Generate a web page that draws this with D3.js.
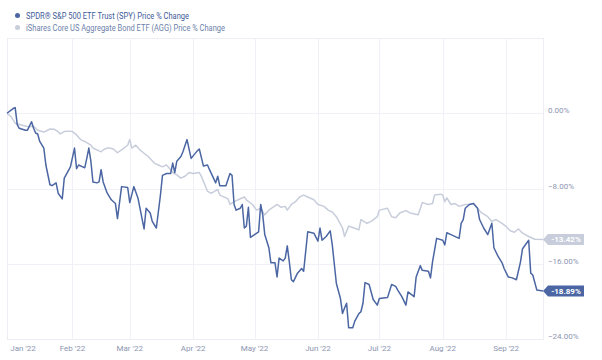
<!DOCTYPE html>
<html>
<head>
<meta charset="utf-8">
<style>
    body { margin: 0; background: #fff; }
    text { font-family: Roboto, "Noto Sans", sans-serif; }
    .axis-label { fill: #8d96b2; font-size: 8px; }
    .legend-text { font-size: 9px; }
    .grid line { stroke: #eff1f6; stroke-width: 1; }
</style>
<script src="https://d3js.org/d3.v7.min.js"></script>
</head>
<body>
<div id="chart"></div>
<script>

var seriesNames = ["SPDR® S&P 500 ETF Trust (SPY) Price % Change",
                   "iShares Core US Aggregate Bond ETF (AGG) Price % Change"];
var seriesColors = ["#4b66a3", "#c7cddb"];
var endLabels = ["-18.89%", "-13.42%"];
var yTicks = [0, -8, -16, -24];

// SPY price % change
var spy = [
    ["2021-12-31", 0.0], ["2022-01-03", 0.5], ["2022-01-04", 0.6], ["2022-01-05", -1.2],
    ["2022-01-06", -1.6], ["2022-01-09", -1.8], ["2022-01-10", -1.8], ["2022-01-12", -0.9],
    ["2022-01-13", -1.6], ["2022-01-14", -2.1], ["2022-01-15", -2.2], ["2022-01-16", -3.0],
    ["2022-01-18", -3.7], ["2022-01-19", -5.5], ["2022-01-21", -7.6], ["2022-01-22", -7.7],
    ["2022-01-24", -7.4], ["2022-01-25", -8.5], ["2022-01-27", -9.1], ["2022-01-28", -6.9],
    ["2022-01-31", -5.7], ["2022-02-02", -3.7], ["2022-02-03", -5.9], ["2022-02-04", -5.5],
    ["2022-02-06", -5.7], ["2022-02-07", -5.8], ["2022-02-08", -4.8], ["2022-02-09", -3.7],
    ["2022-02-10", -5.1], ["2022-02-11", -7.3], ["2022-02-13", -7.4], ["2022-02-14", -7.3],
    ["2022-02-15", -6.0], ["2022-02-16", -7.3], ["2022-02-18", -8.5], ["2022-02-20", -9.2],
    ["2022-02-22", -9.6], ["2022-02-23", -11.2], ["2022-02-25", -7.8], ["2022-02-28", -7.9],
    ["2022-03-01", -9.5], ["2022-03-03", -7.8], ["2022-03-05", -9.0], ["2022-03-07", -11.2],
    ["2022-03-08", -12.3], ["2022-03-09", -10.1], ["2022-03-11", -10.6], ["2022-03-12", -11.5],
    ["2022-03-14", -12.2], ["2022-03-16", -8.7], ["2022-03-17", -6.6], ["2022-03-19", -6.4],
    ["2022-03-21", -6.4], ["2022-03-22", -5.3], ["2022-03-23", -6.3], ["2022-03-24", -5.1],
    ["2022-03-26", -4.6], ["2022-03-27", -4.1], ["2022-03-29", -2.8], ["2022-03-31", -4.8],
    ["2022-04-03", -4.0], ["2022-04-04", -3.8], ["2022-04-06", -5.6], ["2022-04-08", -5.5],
    ["2022-04-09", -6.0], ["2022-04-12", -7.4], ["2022-04-13", -6.7], ["2022-04-14", -7.7],
    ["2022-04-17", -7.7], ["2022-04-19", -6.4], ["2022-04-20", -6.6], ["2022-04-21", -9.7],
    ["2022-04-22", -10.3], ["2022-04-24", -10.1], ["2022-04-25", -9.7], ["2022-04-26", -12.2],
    ["2022-04-27", -12.0], ["2022-04-28", -10.0], ["2022-04-29", -13.2], ["2022-05-01", -12.9],
    ["2022-05-03", -12.6], ["2022-05-04", -9.7], ["2022-05-05", -10.8], ["2022-05-06", -12.9],
    ["2022-05-08", -14.3], ["2022-05-09", -15.9], ["2022-05-11", -15.9], ["2022-05-12", -17.4],
    ["2022-05-13", -15.4], ["2022-05-15", -15.7], ["2022-05-16", -15.4], ["2022-05-17", -14.1],
    ["2022-05-18", -15.8], ["2022-05-19", -17.7], ["2022-05-20", -17.9], ["2022-05-22", -17.0],
    ["2022-05-24", -16.5], ["2022-05-25", -16.8], ["2022-05-27", -12.6], ["2022-05-30", -12.75],
    ["2022-06-01", -13.6], ["2022-06-02", -12.2], ["2022-06-03", -13.5], ["2022-06-05", -13.1],
    ["2022-06-07", -12.5], ["2022-06-08", -14.0], ["2022-06-10", -18.1], ["2022-06-12", -19.7],
    ["2022-06-13", -21.3], ["2022-06-14", -20.7], ["2022-06-15", -20.2], ["2022-06-16", -22.8],
    ["2022-06-18", -22.8], ["2022-06-19", -22.1], ["2022-06-21", -21.3], ["2022-06-22", -21.1],
    ["2022-06-23", -20.2], ["2022-06-24", -18.0], ["2022-06-26", -18.2], ["2022-06-28", -19.8],
    ["2022-06-30", -20.4], ["2022-07-01", -19.7], ["2022-07-05", -19.6], ["2022-07-07", -18.2],
    ["2022-07-09", -18.4], ["2022-07-10", -18.8], ["2022-07-12", -19.5], ["2022-07-14", -20.4],
    ["2022-07-15", -19.0], ["2022-07-18", -19.5], ["2022-07-19", -17.4], ["2022-07-21", -16.2],
    ["2022-07-22", -16.7], ["2022-07-25", -16.8], ["2022-07-26", -17.5], ["2022-07-27", -15.8],
    ["2022-07-29", -13.3], ["2022-08-01", -13.5], ["2022-08-02", -14.0], ["2022-08-03", -12.7],
    ["2022-08-05", -12.9], ["2022-08-09", -13.3], ["2022-08-10", -11.7], ["2022-08-11", -11.3],
    ["2022-08-12", -10.1], ["2022-08-14", -9.7], ["2022-08-16", -9.6], ["2022-08-18", -10.1],
    ["2022-08-19", -11.3], ["2022-08-21", -12.2], ["2022-08-23", -12.9], ["2022-08-25", -11.7],
    ["2022-08-26", -14.3], ["2022-08-28", -15.2], ["2022-08-30", -15.9], ["2022-08-31", -16.5],
    ["2022-09-02", -17.4], ["2022-09-04", -17.5], ["2022-09-06", -17.7], ["2022-09-08", -15.8],
    ["2022-09-09", -14.4], ["2022-09-12", -13.5], ["2022-09-13", -17.0], ["2022-09-14", -17.2],
    ["2022-09-16", -18.8], ["2022-09-19", -18.89]
];

// AGG price % change
var agg = [
    ["2021-12-31", 0.0], ["2022-01-02", -0.36], ["2022-01-04", -1.06], ["2022-01-08", -1.3],
    ["2022-01-10", -1.4], ["2022-01-13", -1.4], ["2022-01-15", -1.8], ["2022-01-18", -2.0],
    ["2022-01-21", -1.67], ["2022-01-23", -1.7], ["2022-01-25", -1.95], ["2022-01-26", -2.2],
    ["2022-01-28", -1.95], ["2022-01-30", -1.9], ["2022-02-01", -1.95], ["2022-02-03", -2.3],
    ["2022-02-05", -2.8], ["2022-02-07", -3.0], ["2022-02-10", -3.4], ["2022-02-11", -3.7],
    ["2022-02-15", -4.1], ["2022-02-16", -3.9], ["2022-02-18", -3.7], ["2022-02-19", -3.7],
    ["2022-02-21", -3.8], ["2022-02-23", -4.2], ["2022-02-25", -3.9], ["2022-02-28", -3.4],
    ["2022-03-01", -2.8], ["2022-03-02", -3.7], ["2022-03-04", -3.4], ["2022-03-06", -3.9],
    ["2022-03-08", -4.25], ["2022-03-10", -4.6], ["2022-03-13", -5.3], ["2022-03-15", -5.5],
    ["2022-03-17", -5.7], ["2022-03-19", -5.5], ["2022-03-21", -6.0], ["2022-03-22", -6.3],
    ["2022-03-24", -6.56], ["2022-03-26", -6.9], ["2022-03-28", -6.7], ["2022-03-30", -6.3],
    ["2022-04-01", -6.4], ["2022-04-04", -6.3], ["2022-04-05", -6.7], ["2022-04-08", -8.3],
    ["2022-04-10", -8.5], ["2022-04-13", -8.1], ["2022-04-14", -8.7], ["2022-04-17", -9.0],
    ["2022-04-18", -9.1], ["2022-04-19", -9.7], ["2022-04-21", -9.4], ["2022-04-23", -9.2],
    ["2022-04-26", -8.9], ["2022-04-27", -9.2], ["2022-04-30", -9.7], ["2022-05-02", -10.3],
    ["2022-05-04", -10.1], ["2022-05-06", -10.8], ["2022-05-08", -10.3], ["2022-05-12", -9.7],
    ["2022-05-14", -10.0], ["2022-05-16", -9.9], ["2022-05-17", -10.3], ["2022-05-19", -9.7],
    ["2022-05-21", -9.4], ["2022-05-23", -8.9], ["2022-05-25", -8.7], ["2022-05-27", -8.9],
    ["2022-05-30", -9.2], ["2022-06-01", -9.7], ["2022-06-04", -9.9], ["2022-06-06", -10.3],
    ["2022-06-08", -10.5], ["2022-06-10", -11.0], ["2022-06-13", -12.2], ["2022-06-14", -13.1],
    ["2022-06-16", -12.0], ["2022-06-18", -12.15], ["2022-06-21", -12.4], ["2022-06-22", -11.3],
    ["2022-06-25", -11.7], ["2022-06-27", -11.5], ["2022-06-30", -11.0], ["2022-07-01", -10.3],
    ["2022-07-05", -10.1], ["2022-07-07", -11.0], ["2022-07-09", -11.1], ["2022-07-11", -10.6],
    ["2022-07-14", -10.35], ["2022-07-16", -10.6], ["2022-07-20", -10.8], ["2022-07-22", -9.5],
    ["2022-07-25", -9.7], ["2022-07-27", -9.6], ["2022-07-28", -8.7], ["2022-07-31", -8.6],
    ["2022-08-01", -8.7], ["2022-08-02", -9.4], ["2022-08-03", -9.0], ["2022-08-05", -9.7],
    ["2022-08-07", -9.6], ["2022-08-09", -9.9], ["2022-08-12", -9.7], ["2022-08-14", -9.7],
    ["2022-08-16", -9.6], ["2022-08-18", -10.1], ["2022-08-20", -10.6], ["2022-08-23", -11.0],
    ["2022-08-25", -11.5], ["2022-08-27", -11.3], ["2022-08-30", -11.7], ["2022-09-01", -12.05],
    ["2022-09-03", -12.5], ["2022-09-05", -12.65], ["2022-09-07", -12.3], ["2022-09-09", -12.75],
    ["2022-09-12", -13.1], ["2022-09-15", -13.4], ["2022-09-19", -13.42]
];

var width = 602, height = 360;
var plot = { left: 7, right: 543, top: 38, bottom: 339 };

var parseDate = d3.timeParse("%Y-%m-%d");

function init() {
    var svg = d3.select("#chart").append("svg")
        .attr("width", width).attr("height", height);

    var x = d3.scaleTime()
        .domain([parseDate("2021-12-31"), parseDate("2022-09-19")])
        .range([plot.left, plot.right]);
    var y = d3.scaleLinear()
        .domain([-24, 8])
        .range([plot.bottom, plot.top]);

    // plot frame
    svg.append("rect")
        .attr("x", plot.left + 0.5).attr("y", plot.top + 0.5)
        .attr("width", plot.right - plot.left).attr("height", plot.bottom - plot.top)
        .attr("fill", "none").attr("stroke", "#eceef4");

    // grid lines
    var months = x.ticks(d3.timeMonth.every(1));
    var grid = svg.append("g").attr("class", "grid");
    grid.selectAll("line.v").data(months.slice(1)).enter().append("line")
        .attr("x1", function(d) { return Math.round(x(d)) + 0.5; })
        .attr("x2", function(d) { return Math.round(x(d)) + 0.5; })
        .attr("y1", plot.top).attr("y2", plot.bottom);
    grid.selectAll("line.h").data(yTicks.slice(0, 3)).enter().append("line")
        .attr("x1", plot.left).attr("x2", plot.right)
        .attr("y1", function(d) { return Math.round(y(d)) + 0.5; })
        .attr("y2", function(d) { return Math.round(y(d)) + 0.5; });

    // y labels on the right
    svg.append("g").selectAll("text").data(yTicks).enter().append("text")
        .attr("class", "axis-label")
        .attr("x", plot.right + 5)
        .attr("y", function(d) { return y(d); })
        .text(function(d) { return d3.format(".2f")(d) + "%"; });

    // month labels
    var fmt = d3.timeFormat("%b '%y");
    svg.append("g").selectAll("text").data(months).enter().append("text")
        .attr("class", "axis-label")
        .attr("text-anchor", "middle")
        .attr("x", function(d, i) { return i == 0 ? plot.left + 16 : x(d); })
        .attr("y", 351)
        .text(fmt);

    // series lines
    var line = d3.line()
        .x(function(d) { return x(parseDate(d[0])); })
        .y(function(d) { return y(d[1]); });

    [agg, spy].forEach(function(series, k) {
        var idx = 1 - k;
        svg.append("path")
            .datum(series)
            .attr("d", line)
            .attr("fill", "none")
            .attr("stroke", seriesColors[idx])
            .attr("stroke-width", 1.5)
            .attr("stroke-linejoin", "round");
    });

    // last value flags
    [spy, agg].forEach(function(series, i) {
        var last = series[series.length - 1];
        var cy = y(last[1]);
        var x0 = plot.right;
        var g = svg.append("g");
        g.append("path")
            .attr("d", "M" + x0 + "," + cy +
                       " L" + (x0 + 5) + "," + (cy - 5.5) +
                       " L" + (x0 + 41) + "," + (cy - 5.5) +
                       " L" + (x0 + 41) + "," + (cy + 5.5) +
                       " L" + (x0 + 5) + "," + (cy + 5.5) + " Z")
            .attr("fill", seriesColors[i]);
        g.append("text")
            .attr("x", x0 + 23).attr("y", cy + 3)
            .attr("text-anchor", "middle")
            .attr("fill", "#fff")
            .attr("font-size", "8px")
            .attr("font-weight", "bold")
            .text(endLabels[i]);
    });

    // legend
    var legend = svg.append("g");
    seriesNames.forEach(function(name, i) {
        var ly = 15.5 + i * 12;
        legend.append("circle")
            .attr("cx", 17.5).attr("cy", ly).attr("r", 2.5)
            .attr("fill", seriesColors[i]);
        legend.append("text")
            .attr("class", "legend-text")
            .attr("x", 26).attr("y", ly + 3)
            .attr("fill", i == 0 ? "#3e5a97" : "#6d7fab")
            .attr("textLength", i == 0 ? 163 : 199)
            .attr("lengthAdjust", "spacingAndGlyphs")
            .text(name);
    });
}

init();
</script>
</body>
</html>
